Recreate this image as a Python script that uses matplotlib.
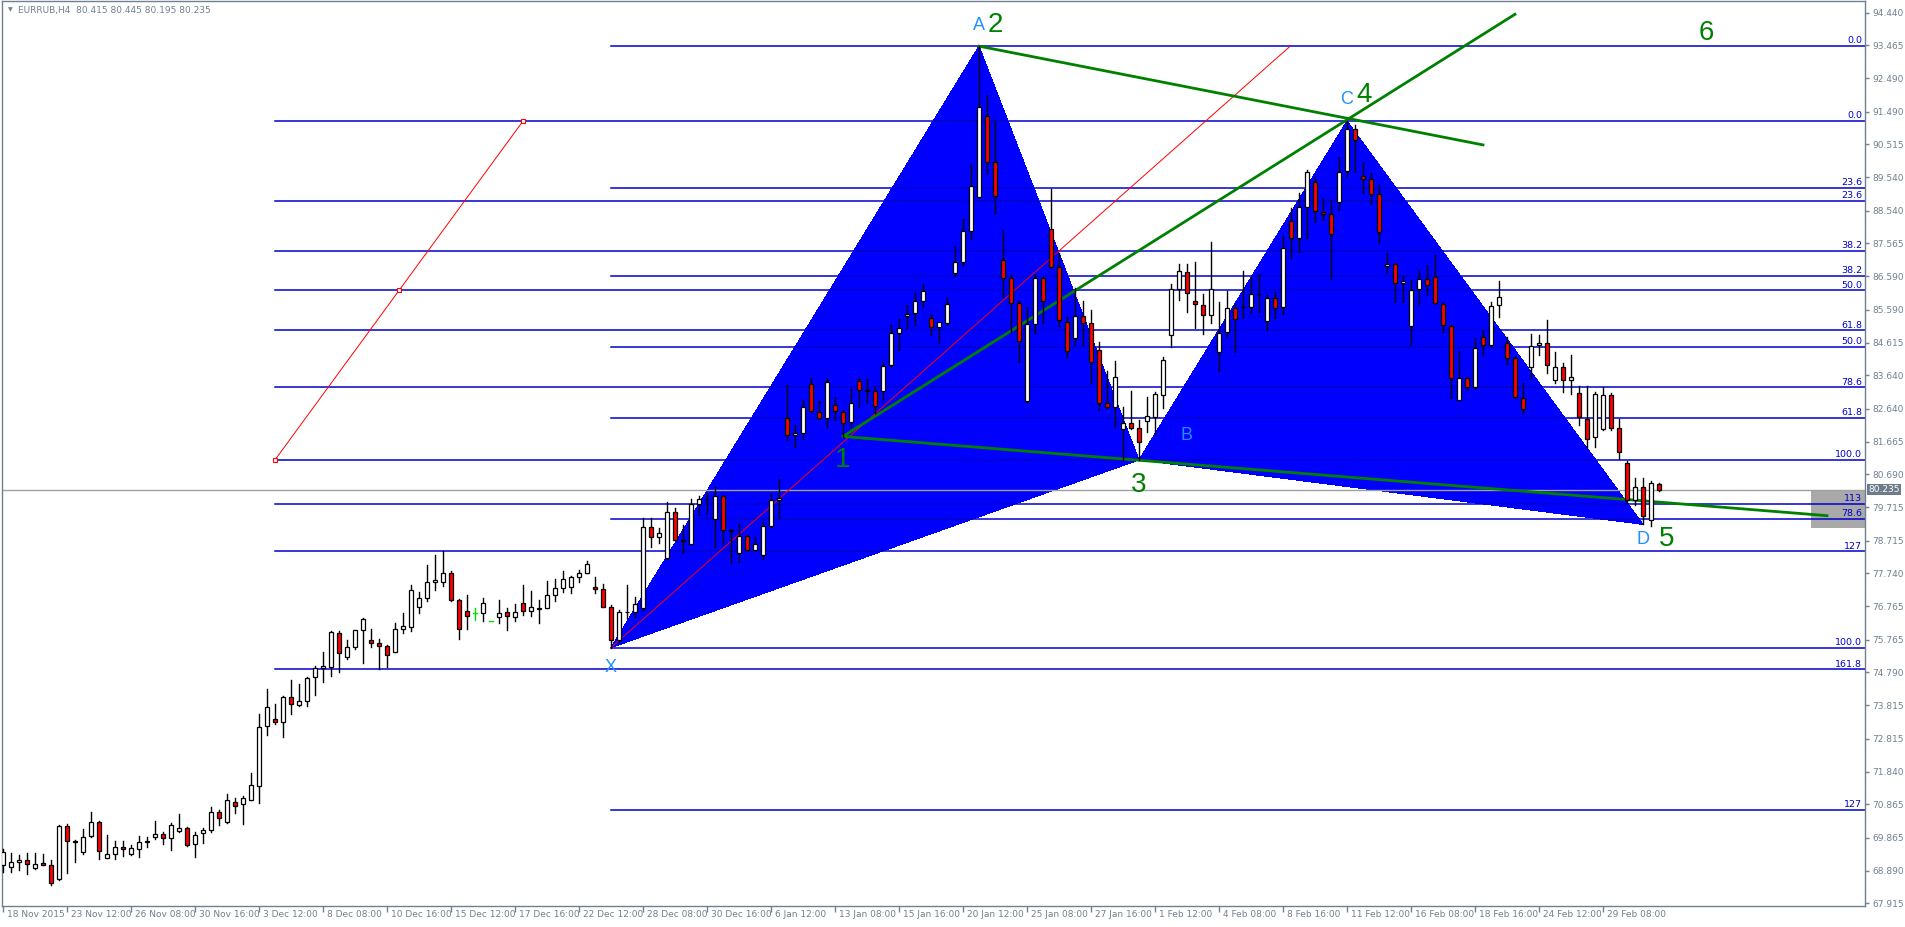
import matplotlib
matplotlib.use("Agg")
import matplotlib.pyplot as plt
from matplotlib.patches import Polygon, Rectangle

# EURRUB H4 candles (open, high, low, close)
opens = [69.05, 69.00, 69.16, 69.22, 68.98, 69.11, 69.07, 68.65, 70.21, 69.78,
         69.45, 69.91, 70.34, 69.28, 69.40, 69.59, 69.40, 69.52, 69.74, 69.89,
         69.99, 69.86, 70.06, 70.17, 69.67, 70.02, 70.11, 70.65, 70.34, 70.94,
         70.86, 70.98, 71.42, 73.21, 73.42, 73.33, 74.07, 73.81, 73.95, 74.66,
         74.91, 74.96, 75.98, 75.26, 75.55, 76.05, 75.77, 75.67, 75.59, 75.41,
         76.09, 76.15, 76.75, 77.02, 77.47, 77.49, 77.74, 76.96, 76.63, 76.57,
         76.55, 76.33, 76.43, 76.58, 76.43, 76.87, 76.61, 76.72, 76.72, 77.11,
         77.32, 77.35, 77.62, 77.74, 77.34, 77.29, 76.75, 75.76, 76.60, 76.60,
         76.70, 79.11, 78.81, 78.19, 79.56, 78.70, 78.63, 79.80, 79.97, 79.35,
         80.05, 79.03, 78.34, 78.85, 78.45, 78.28, 79.15, 79.93, 82.36, 81.86,
         81.93, 83.38, 82.56, 82.38, 82.75, 82.56, 82.26, 83.48, 83.20, 83.18,
         83.17, 83.95, 84.89, 85.40, 85.48, 85.86, 85.34, 85.07, 85.19, 86.69,
         87.00, 87.93, 88.96, 91.37, 89.98, 87.07, 86.53, 85.78, 82.87, 85.16,
         86.53, 88.01, 86.85, 85.24, 84.74, 85.40, 85.19, 84.39, 82.80, 82.69,
         82.03, 82.21, 82.06, 82.28, 82.41, 83.05, 84.84, 86.20, 86.72, 85.86,
         85.73, 85.44, 84.32, 84.92, 85.63, 85.66, 85.66, 86.05, 85.25, 85.93,
         85.68, 88.24, 87.74, 88.64, 89.39, 88.51, 88.43, 88.81, 89.72, 90.96,
         89.57, 89.48, 89.03, 86.89, 86.94, 86.38, 85.11, 86.20, 86.50, 86.58,
         85.76, 85.12, 82.90, 83.55, 83.28, 84.79, 84.54, 85.73, 84.61, 84.14,
         82.97, 83.90, 84.54, 84.61, 83.50, 83.90, 83.50, 83.10, 82.33, 81.79,
         82.04, 83.05, 82.06, 81.02, 79.93, 80.30, 79.33, 80.415]
highs = [69.52, 69.43, 69.37, 69.43, 69.43, 69.40, 69.22, 70.25, 70.27, 69.80,
         70.14, 70.63, 70.36, 69.94, 69.76, 69.76, 69.64, 69.92, 69.89, 70.36,
         70.04, 70.31, 70.59, 70.19, 70.03, 70.17, 70.79, 70.69, 71.16, 71.04,
         71.10, 71.80, 73.55, 74.29, 73.84, 74.10, 74.56, 74.44, 74.66, 74.98,
         75.39, 76.03, 76.03, 75.75, 76.07, 76.40, 76.08, 75.78, 75.61, 76.25,
         76.55, 77.41, 77.19, 77.99, 78.28, 78.40, 77.82, 76.98, 77.09, 76.70,
         77.02, 76.33, 76.96, 76.71, 76.84, 77.39, 77.21, 76.96, 77.51, 77.56,
         77.81, 77.66, 77.84, 78.10, 77.64, 77.42, 76.79, 76.65, 77.41, 77.03,
         79.40, 79.40, 79.08, 79.86, 79.68, 79.18, 79.97, 80.04, 80.14, 80.30,
         80.09, 79.05, 79.21, 78.87, 78.83, 79.30, 80.10, 80.55, 83.35, 82.16,
         82.90, 83.55, 82.88, 83.55, 82.98, 82.61, 83.22, 83.60, 83.53, 83.30,
         84.05, 85.15, 85.32, 85.72, 86.08, 86.36, 85.46, 85.13, 85.95, 87.49,
         88.28, 89.93, 93.44, 91.99, 91.21, 87.97, 86.63, 85.86, 85.66, 86.63,
         86.58, 89.19, 87.29, 85.39, 86.23, 85.85, 85.58, 84.64, 83.78, 84.07,
         82.70, 83.17, 82.31, 83.00, 83.15, 84.17, 86.36, 86.95, 86.95, 87.00,
         86.06, 87.60, 85.83, 86.15, 85.76, 86.74, 86.57, 86.65, 86.03, 86.11,
         87.79, 88.61, 89.06, 89.75, 89.55, 88.93, 88.86, 90.13, 91.21, 91.10,
         90.00, 89.65, 89.31, 87.27, 86.99, 86.60, 86.48, 86.77, 86.92, 87.22,
         85.83, 85.14, 84.36, 83.60, 84.74, 84.99, 85.83, 86.45, 84.79, 84.21,
         83.40, 84.87, 84.84, 85.29, 84.32, 84.02, 84.24, 83.32, 83.32, 83.15,
         83.28, 83.10, 82.33, 81.09, 80.57, 80.57, 80.49, 80.445]
lows = [68.85, 68.85, 68.90, 68.80, 68.95, 69.05, 68.47, 68.60, 68.82, 69.15,
        69.40, 69.89, 69.25, 69.26, 69.25, 69.32, 69.37, 69.30, 69.60, 69.84,
        69.69, 69.50, 70.04, 69.62, 69.30, 69.71, 70.04, 70.26, 70.31, 70.61,
        70.28, 70.98, 70.91, 72.93, 73.27, 72.87, 73.56, 73.80, 73.80, 74.11,
        74.51, 74.68, 74.81, 75.19, 75.50, 75.08, 75.55, 74.90, 74.96, 75.39,
        75.97, 76.03, 76.57, 76.92, 77.24, 77.36, 76.92, 75.78, 76.10, 76.35,
        76.33, 76.33, 76.25, 76.05, 76.32, 76.50, 76.47, 76.27, 76.70, 76.92,
        77.19, 77.16, 77.49, 77.74, 77.16, 76.74, 75.53, 75.70, 76.40, 76.45,
        76.65, 78.54, 78.65, 78.16, 78.73, 78.34, 78.61, 79.48, 79.51, 78.54,
        78.61, 78.04, 78.09, 78.44, 78.44, 78.18, 79.13, 79.38, 81.71, 81.51,
        81.76, 82.56, 82.33, 82.11, 82.31, 81.81, 82.11, 82.71, 82.80, 82.51,
        82.90, 83.90, 84.39, 85.06, 85.13, 85.68, 84.84, 84.61, 85.14, 86.59,
        86.90, 87.70, 88.96, 89.62, 88.48, 85.98, 84.94, 84.05, 82.85, 84.91,
        85.21, 86.85, 85.12, 84.17, 84.54, 84.54, 83.42, 82.60, 82.67, 82.11,
        81.12, 82.04, 81.12, 81.96, 81.91, 82.68, 84.49, 85.88, 85.53, 85.04,
        84.87, 85.19, 83.78, 84.79, 84.32, 85.34, 85.48, 85.53, 84.99, 85.34,
        85.45, 87.12, 87.32, 87.72, 88.21, 88.26, 86.51, 88.56, 89.53, 89.68,
        89.06, 88.73, 87.57, 86.70, 85.81, 85.83, 84.54, 85.73, 86.03, 85.76,
        84.92, 82.95, 82.90, 83.20, 83.22, 84.24, 84.52, 85.38, 83.99, 82.95,
        82.51, 83.55, 84.24, 83.70, 83.42, 83.13, 83.07, 82.16, 81.46, 81.49,
        82.01, 82.01, 81.15, 79.83, 79.78, 79.20, 79.16, 80.195]
closes = [69.45, 69.15, 69.22, 69.10, 69.10, 69.07, 68.53, 70.21, 69.78, 69.74,
          69.90, 70.34, 69.46, 69.40, 69.58, 69.52, 69.55, 69.73, 69.76, 69.99,
          69.87, 70.26, 70.17, 69.64, 69.96, 70.11, 70.64, 70.47, 70.98, 70.82,
          71.04, 71.45, 73.17, 73.77, 73.32, 74.07, 73.86, 73.95, 74.62, 74.91,
          74.99, 75.99, 75.38, 75.55, 76.05, 76.37, 75.68, 75.59, 75.32, 76.10,
          76.16, 77.26, 77.02, 77.47, 77.53, 77.75, 76.95, 76.10, 76.46, 76.57,
          76.87, 76.33, 76.55, 76.46, 76.58, 76.61, 76.75, 76.68, 77.11, 77.32,
          77.56, 77.62, 77.74, 78.01, 77.28, 76.75, 75.77, 76.60, 76.58, 76.82,
          79.11, 78.81, 78.93, 79.56, 78.75, 78.75, 79.80, 79.97, 79.95, 80.05,
          79.03, 79.01, 78.86, 78.45, 78.63, 79.15, 79.93, 80.00, 81.86, 81.91,
          82.70, 82.58, 82.38, 83.45, 82.58, 82.23, 82.80, 83.20, 83.18, 82.72,
          83.92, 84.89, 85.06, 85.46, 85.86, 86.16, 85.09, 85.22, 85.75, 87.00,
          87.93, 89.28, 91.62, 89.98, 88.99, 86.53, 85.78, 84.67, 85.16, 86.53,
          85.85, 86.87, 85.29, 84.36, 85.40, 85.19, 84.03, 82.80, 82.69, 83.60,
          82.21, 82.06, 81.64, 82.43, 83.07, 84.09, 86.20, 86.75, 86.08, 85.76,
          85.44, 86.21, 84.89, 85.63, 85.31, 85.68, 86.05, 86.07, 85.93, 85.63,
          87.44, 87.74, 88.66, 89.68, 88.53, 88.44, 87.84, 89.70, 90.96, 90.66,
          89.49, 89.03, 87.90, 86.94, 86.38, 86.46, 86.18, 86.50, 86.33, 85.78,
          85.14, 83.57, 83.55, 83.28, 84.46, 84.54, 85.71, 85.98, 84.16, 83.00,
          82.65, 84.52, 84.61, 83.95, 83.90, 83.50, 83.58, 82.39, 81.74, 83.08,
          83.05, 82.06, 81.37, 79.93, 80.30, 79.46, 80.42, 80.235]

date_labels = ["18 Nov 2015", "23 Nov 12:00", "26 Nov 08:00", "30 Nov 16:00", "3 Dec 12:00",
               "8 Dec 08:00", "10 Dec 16:00", "15 Dec 12:00", "17 Dec 16:00", "22 Dec 12:00",
               "28 Dec 08:00", "30 Dec 16:00", "6 Jan 12:00", "13 Jan 08:00", "15 Jan 16:00",
               "20 Jan 12:00", "25 Jan 08:00", "27 Jan 16:00", "1 Feb 12:00", "4 Feb 08:00",
               "8 Feb 16:00", "11 Feb 12:00", "16 Feb 08:00", "18 Feb 16:00", "24 Feb 12:00",
               "29 Feb 08:00"]
price_ticks = [94.440, 93.465, 92.490, 91.490, 90.515, 89.540, 88.540, 87.565, 86.590,
               85.590, 84.615, 83.640, 82.640, 81.665, 80.690, 79.715, 78.715, 77.740,
               76.765, 75.765, 74.790, 73.815, 72.815, 71.840, 70.865, 69.865, 68.890, 67.915]
last_price = 80.235

# harmonic pattern points (bar index, price)
pt_x = (76, 75.53)
pt_a = (122, 93.44)
pt_b = (142, 81.12)
pt_c = (168, 91.21)
pt_d = (205, 79.20)
pt_1 = (105, 81.82)

# two fibo retracements: (start bar, price at 100%, price at 0%, levels)
fib1_start, fib1_100, fib1_0 = 76, 75.53, 93.44
fib1_levels = [0.0, 23.6, 38.2, 50.0, 61.8, 78.6, 100.0, 127]
fib2_start, fib2_100, fib2_0 = 34, 81.12, 91.21
fib2_end = 65
fib2_levels = [0.0, 23.6, 38.2, 50.0, 61.8, 78.6, 100.0, 113, 127, 161.8]

W, H = 1905, 927
fig = plt.figure(figsize=(W / 100, H / 100), dpi=100)
ax = fig.add_axes([2 / W, 21 / H, 1863 / W, 905 / H])
xmin, xmax = -0.125, 232.75
ax.set_xlim(xmin, xmax)
ax.set_ylim(67.837, 94.785)

grey = "#708090"
fibc = "#0000CD"

# blue pattern triangles
for tri in [(pt_x, pt_a, pt_b), (pt_b, pt_c, pt_d)]:
    ax.add_patch(Polygon(tri, closed=True, facecolor="#0000FF", edgecolor="none",
                         zorder=1, antialiased=False))

ax.add_patch(Rectangle((226, 79.10), xmax - 226, 1.10, facecolor="#A9A9A9",
                       edgecolor="none", zorder=1.2))
ax.axhline(last_price, color="#A0A0A0", lw=1, zorder=1.5)


def fib_price(p100, p0, lev):
    return p0 + (p100 - p0) * lev / 100.0


def fmt(lev):
    return "%g" % lev if lev in (113, 127) else "%.1f" % lev


for start, p100, p0, levels in [(fib1_start, fib1_100, fib1_0, fib1_levels),
                                (fib2_start, fib2_100, fib2_0, fib2_levels)]:
    for lev in levels:
        y = fib_price(p100, p0, lev)
        ax.plot([start, xmax], [y, y], color=fibc, lw=1.1, zorder=2)
        ax.text(xmax - 0.35, y + 0.02, fmt(lev), color=fibc, fontsize=6.8,
                ha="right", va="bottom", zorder=5)

# fibo base lines (thin red)
ax.plot([fib1_start, 160.9], [fib1_100, fib1_0], color="red", lw=0.7, zorder=2.5)
ax.plot([fib2_start, fib2_end], [fib2_100, fib2_0], color="red", lw=0.7, zorder=2.5)
ax.plot([fib2_start, (fib2_start + fib2_end) / 2, fib2_end],
        [fib2_100, (fib2_100 + fib2_0) / 2, fib2_0], ls="none", marker="s", ms=3.5,
        mfc="white", mec="red", mew=0.8, zorder=2.6)

# green trend lines
green = "#008000"
ax.plot([pt_1[0], 228], [pt_1[1], 79.46], color=green, lw=2, zorder=2.7)
ax.plot([pt_1[0], 189], [pt_1[1], 94.39], color=green, lw=2, zorder=2.7)
ax.plot([pt_a[0], 185], [pt_a[1], 90.50], color=green, lw=2, zorder=2.7)

# candles
bw = 0.42
for i in range(len(opens)):
    o, hi, lo, c = opens[i], highs[i], lows[i], closes[i]
    if o == c:
        ax.plot([i, i], [lo, hi], color="#00DD00", lw=1, zorder=3)
        ax.plot([i - bw / 2, i + bw / 2], [o, o], color="#00DD00", lw=1, zorder=3)
        continue
    ax.plot([i, i], [lo, hi], color="black", lw=1, zorder=3)
    face = "white" if c > o else "#FF0000"
    ax.add_patch(Rectangle((i - bw / 2, min(o, c)), bw, abs(c - o), facecolor=face,
                           edgecolor="black", lw=0.9, zorder=3.1))

# pattern labels
lab_blue = "#1E90FF"
lf = "Liberation Sans"
for txt, x, y in [("X", 76, 74.95), ("A", 122, 94.07), ("B", 148, 81.86),
                  ("C", 168, 91.86), ("D", 205, 78.75)]:
    ax.text(x, y, txt, color=lab_blue, fontsize=13, family=lf, ha="center", va="center", zorder=6)
for txt, x, y in [("1", 105, 81.12), ("2", 124, 94.07), ("3", 142, 80.38),
                  ("4", 170.2, 92.0), ("5", 208, 78.76), ("6", 212.9, 93.84)]:
    ax.text(x, y, txt, color=green, fontsize=20, family=lf, ha="center", va="center", zorder=6)

# axes styling like the terminal
for s in ax.spines.values():
    s.set_color(grey)
    s.set_linewidth(1)
ax.yaxis.tick_right()
ax.set_yticks(price_ticks)
ax.set_yticklabels(["%.3f" % p for p in price_ticks])
ax.tick_params(axis="y", direction="out", length=3, width=1, color=grey,
               labelcolor=grey, labelsize=6.5, pad=2)
ticks = [8 * k for k in range(len(date_labels))]
ax.set_xticks(ticks)
ax.set_xticklabels([])
ax.tick_params(axis="x", direction="out", length=4, width=1, color=grey)
for t, lab in zip(ticks, date_labels):
    ax.text(t + 0.45, -0.0045, lab, transform=ax.get_xaxis_transform(), ha="left", va="top",
            fontsize=6.5, color=grey, clip_on=False)

ax.text(1.0 + 3 / 1863, last_price, "%.3f" % last_price, transform=ax.get_yaxis_transform(),
        ha="left", va="center", fontsize=6.5, color="white", zorder=7, clip_on=False,
        bbox=dict(boxstyle="square,pad=0.15", facecolor="#6E7B8B", edgecolor="none"))

fig.text(8 / W, 1 - 10 / H, "\u25bc", fontsize=4.5, color=grey, va="center")
fig.text(18 / W, 1 - 10 / H, "EURRUB,H4  80.415 80.445 80.195 80.235", fontsize=6.5,
         color=grey, va="center")

fig.savefig("out.png", dpi=100)
